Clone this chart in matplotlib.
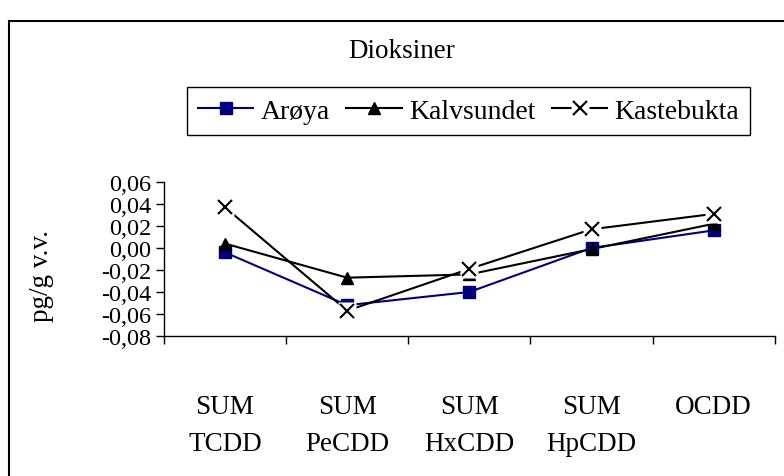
import matplotlib.pyplot as plt
from matplotlib.patches import Rectangle
from matplotlib.legend_handler import HandlerTuple
import numpy as np

# data
kategorier = ["SUM\nTCDD", "SUM\nPeCDD", "SUM\nHxCDD", "SUM\nHpCDD", "OCDD"]
aroya = [-0.004, -0.052, -0.040, 0.000, 0.016]
kalvsundet = [0.004, -0.027, -0.024, -0.001, 0.022]
kastebukta = [0.037, -0.057, -0.019, 0.017, 0.031]
yticks = [-0.08, -0.06, -0.04, -0.02, 0.00, 0.02, 0.04, 0.06]

plt.rcParams["font.family"] = ["Liberation Serif", "DejaVu Serif"]
fs = 19.5

fig = plt.figure(figsize=(7.84, 4.77), dpi=100)
ax = fig.add_axes([0.209, 0.2935, 0.7793, 0.3229])

x = np.arange(len(kategorier))

ax.plot(x, aroya, color="#000080", lw=1.5, marker="s", ms=8.5,
        mfc="#000080", mec="#000080", label="Arøya", zorder=3)
ax.plot(x, kalvsundet, color="black", lw=1.5, marker="^", ms=9,
        mfc="black", mec="black", label="Kalvsundet", zorder=3)
# hvit bakgrunn bak krysset
ax.plot(x, kastebukta, color="black", lw=1.5, zorder=4)
ax.plot(x, kastebukta, ls="none", marker="s", ms=13, mfc="white", mec="none", zorder=5)
ax.plot(x, kastebukta, ls="none", marker="x", ms=10, mew=1.5, color="black", zorder=6)

kaste_handle = (plt.Line2D([0], [0], color="black", lw=1.5),
                plt.Line2D([0], [0], ls="none", marker="s", ms=13, mfc="white", mec="none"),
                plt.Line2D([0], [0], ls="none", marker="x", ms=10, mew=1.5, color="black"))

ax.set_xlim(-0.5, len(kategorier) - 0.5)
ax.set_ylim(-0.08, 0.06)
ax.set_yticks(yticks)
ax.set_yticklabels([f"{v:.2f}".replace(".", ",") for v in yticks], fontsize=17.5)

ax.set_xticks(x)
ax.set_xticklabels(kategorier, fontsize=fs, linespacing=1.6, va="top")
ax.set_xticks(np.arange(-0.5, len(kategorier)), minor=True)
ax.tick_params(axis="x", which="major", length=0, pad=42)
ax.tick_params(axis="x", which="minor", length=6, width=1, direction="out")
ax.tick_params(axis="y", length=6, width=1, direction="out", pad=3)

for s in ["top", "right"]:
    ax.spines[s].set_visible(False)
for s in ["left", "bottom"]:
    ax.spines[s].set_linewidth(1)

fig.text(0.512, 1 - 52 / 477, "Dioksiner", ha="center", va="center", fontsize=fs)
fig.text(42 / 784, 1 - 276 / 477, "pg/g v.v.", rotation=90, ha="center", va="center", fontsize=fs)

h = ax.get_legend_handles_labels()[0][:2]
leg = fig.legend(h + [kaste_handle], ["Arøya", "Kalvsundet", "Kastebukta"],
                 handler_map={tuple: HandlerTuple(ndivide=1)},
                 loc="center", bbox_to_anchor=(0.5976, 1 - 112 / 477), ncol=3,
                 fontsize=20, fancybox=False, edgecolor="black", framealpha=1,
                 handlelength=2.0, handletextpad=0.25, columnspacing=0.6,
                 borderpad=0.4)
leg.get_frame().set_linewidth(1)

# ytre ramme
fig.add_artist(Rectangle((9 / 784, -0.1), 1.1, 1.1 - 22 / 477, transform=fig.transFigure,
                         fill=False, edgecolor="black", lw=1.5))

plt.savefig("out.png", dpi=100)
